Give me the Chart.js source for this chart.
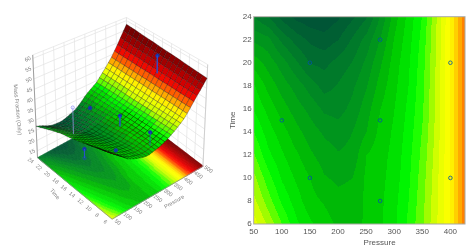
<!DOCTYPE html>
<html>
<head>
<meta charset="utf-8">
<title>Mass fraction surface</title>
<script src="https://cdn.jsdelivr.net/npm/chart.js@4"></script>
<style>
  html, body { margin: 0; padding: 0; background: #fff; }
  .box { position: absolute; top: 0; height: 252px; }
  #surface-box { left: 0; width: 228px; }
  #contour-box { left: 228px; width: 246px; }
  canvas { filter: blur(0.5px); }
</style>
</head>
<body>
<div class="box" id="surface-box"><canvas id="chart-surface"></canvas></div>
<div class="box" id="contour-box"><canvas id="chart-contour"></canvas></div>
<script>
// ===== data =====
const pressures = [50, 75, 100, 125, 150, 175, 200, 225, 250, 275, 300, 325, 350, 375, 400, 425, 450, 475, 500];
const times = [24, 22, 20, 18, 16, 14, 12, 10, 8, 6];

const massAt24 = [27, 26, 24.65, 23.7, 23.3, 23.2, 23.85, 24.8, 25.9, 28.1, 30.55, 32.35, 34.1, 37, 40.15, 43.7, 48, 53, 58];
const massAt22 = [28.8, 28.35, 26.75, 25.6, 24.8, 24.4, 25, 26.15, 27.4, 29.1, 31.1, 32.6, 34.4, 37.1, 40.15, 43.7, 47.9, 52.8, 57.7];
const massAt20 = [30.6, 29.6, 28.5, 27.2, 25.95, 25.7, 26.4, 27.05, 28.25, 29.85, 31.5, 32.85, 34.6, 37.2, 40.15, 43.7, 47.9, 52.6, 57.3];
const massAt18 = [32.1, 30.7, 29.55, 28.6, 27.55, 26.6, 27.1, 27.8, 28.9, 30.45, 31.75, 33, 34.77, 37.25, 40.15, 43.7, 47.8, 52.4, 57];
const massAt16 = [32.9, 31.7, 30.5, 29.5, 28.7, 27.8, 27.6, 28.3, 29.55, 31, 32, 33.25, 34.87, 37.3, 40.15, 43.7, 47.8, 52.2, 56.6];
const massAt14 = [34, 32.5, 31.45, 30.35, 29.5, 28.85, 28.5, 29, 30, 31.35, 32.2, 33.45, 35.1, 37.4, 40.15, 43.7, 47.7, 52, 56.3];
const massAt12 = [35.1, 33.3, 32.15, 31.2, 30.2, 29.5, 29.1, 29.3, 31, 31.6, 32.35, 33.65, 35.33, 37.55, 40.15, 43.7, 47.7, 51.7, 56];
const massAt10 = [36.3, 34.45, 32.85, 31.85, 31, 30.1, 29.8, 30, 31.2, 31.7, 32.5, 33.8, 35.55, 37.7, 40.15, 43.7, 47.6, 51.5, 55.6];
const massAt8 = [37.3, 35.5, 33.8, 32.5, 31.35, 30.9, 30.35, 30.4, 31.2, 31.8, 32.7, 34, 35.7, 37.8, 40.15, 43.7, 47.6, 51.2, 55.3];
const massAt6 = [38.5, 36.8, 35, 33.25, 32.2, 31.45, 30.8, 30.5, 31.2, 31.8, 32.8, 34.2, 35.87, 37.9, 40.15, 43.7, 47.5, 51, 55];
const massRows = [massAt24, massAt22, massAt20, massAt18, massAt16, massAt14, massAt12, massAt10, massAt8, massAt6];

// measured points as they appear in the contour plot
const samplePressure = [100, 150, 150, 275, 275, 275, 400, 400];
const sampleTime = [15, 20, 10, 22, 15, 8, 20, 10];

// measured points as they appear in the 3D view (measured value, surface value)
const pointPressure = [150, 100, 150, 275, 275, 275, 455];
const pointTime = [20, 15, 10, 22, 15, 8, 15];
const pointMass = [37, 26.9, 30.8, 27.8, 34.2, 36, 56];
const pointFitted = [24.3, 22.8, 30.8, 27.8, 29.2, 30, 47];

const pressureTicks = [50, 100, 150, 200, 250, 300, 350, 400];
const pressureTicks3d = [50, 100, 150, 200, 250, 300, 350, 400, 450, 500];
const timeTicks3d = [24, 22, 20, 18, 16, 14, 12, 10, 8, 6];
const massTicks3d = [60, 55, 50, 45, 40, 35, 30, 25, 20, 15];

// ===== colours =====
const COLOR_STOPS = [
  [23, 0, 80, 55], [25, 0, 100, 50], [27, 0, 130, 40], [29, 0, 155, 25], [31, 0, 195, 0],
  [33, 0, 235, 0], [34, 0, 255, 0], [35, 60, 255, 0], [36, 130, 252, 0], [37, 190, 252, 0],
  [38, 225, 255, 0], [39, 245, 255, 0], [40, 255, 255, 0], [41, 255, 225, 0], [42, 255, 190, 0],
  [43, 255, 150, 0], [44, 255, 110, 0], [46, 255, 40, 0], [48, 235, 0, 0], [52, 170, 0, 0], [58, 100, 0, 0]
];

function bandColor(z) {
  const v = Math.floor(z) + 0.5;
  if (v <= COLOR_STOPS[0][0]) return COLOR_STOPS[0].slice(1);
  for (let i = 1; i < COLOR_STOPS.length; i++) {
    const a = COLOR_STOPS[i - 1], b = COLOR_STOPS[i];
    if (v <= b[0]) {
      const k = (v - a[0]) / (b[0] - a[0]);
      return [a[1] + (b[1] - a[1]) * k, a[2] + (b[2] - a[2]) * k, a[3] + (b[3] - a[3]) * k];
    }
  }
  return COLOR_STOPS[COLOR_STOPS.length - 1].slice(1);
}

function css(c) { return `rgb(${Math.round(c[0])},${Math.round(c[1])},${Math.round(c[2])})`; }

// value between the read grid points
function massAt(p, t) {
  const fx = Math.min((p - 50) / 25, pressures.length - 1.001);
  const fy = Math.min((24 - t) / 2, times.length - 1.001);
  const i = Math.floor(fx), j = Math.floor(fy);
  const dx = fx - i, dy = fy - j;
  return massRows[j][i] * (1 - dx) * (1 - dy) + massRows[j][i + 1] * dx * (1 - dy) +
    massRows[j + 1][i] * (1 - dx) * dy + massRows[j + 1][i + 1] * dx * dy;
}

// ===== 3D box in view units =====
const Z_MIN = 11.7, Z_MAX = 61.7;
const BOX_FLOOR = [[34, 159], [112, 223], [207, 168], [128, 108]];
const BOX_TOP = [[29, 52], [113, 95], [212, 62], [127, 13]];

function project(p, t, z) {
  const u = (p - 50) / 450, v = (24 - t) / 18, w = (z - Z_MIN) / (Z_MAX - Z_MIN);
  const k = [(1 - u) * (1 - v), (1 - u) * v, u * v, u * (1 - v)];
  let x = 0, y = 0;
  for (let i = 0; i < 4; i++) {
    x += k[i] * (BOX_FLOOR[i][0] * (1 - w) + BOX_TOP[i][0] * w);
    y += k[i] * (BOX_FLOOR[i][1] * (1 - w) + BOX_TOP[i][1] * w);
  }
  return { x, y };
}

/* =========================
   SURFACE PLOT
========================= */
const surfacePlugin = {
  id: "surface",
  beforeDatasetsDraw(chart) {
    const ctx = chart.ctx;
    const sx = chart.scales.x, sy = chart.scales.y;
    const at = (p, t, z) => {
      const q = project(p, t, z);
      return [sx.getPixelForValue(q.x), sy.getPixelForValue(q.y)];
    };
    const line = (a, b) => {
      ctx.beginPath();
      ctx.moveTo(a[0], a[1]);
      ctx.lineTo(b[0], b[1]);
      ctx.stroke();
    };
    const quad = (a, b, c, d) => {
      ctx.beginPath();
      ctx.moveTo(a[0], a[1]);
      ctx.lineTo(b[0], b[1]);
      ctx.lineTo(c[0], c[1]);
      ctx.lineTo(d[0], d[1]);
      ctx.closePath();
    };
    ctx.save();

    // back walls
    ctx.strokeStyle = "#e2e2e2";
    ctx.lineWidth = 0.7;
    massTicks3d.forEach((z) => {
      line(at(50, 24, z), at(500, 24, z));
      line(at(500, 24, z), at(500, 6, z));
    });
    pressureTicks3d.forEach((p) => line(at(p, 24, Z_MIN), at(p, 24, Z_MAX)));
    timeTicks3d.forEach((t) => line(at(500, t, Z_MIN), at(500, t, Z_MAX)));
    line(at(50, 24, Z_MAX), at(500, 24, Z_MAX));
    line(at(500, 24, Z_MAX), at(500, 6, Z_MAX));

    // floor contour
    for (let p = 50; p < 500; p += 4) {
      for (let t = 24; t > 6; t -= 0.25) {
        const c = css(bandColor(massAt(p + 2, t - 0.125)));
        ctx.fillStyle = c;
        ctx.strokeStyle = c;
        ctx.lineWidth = 0.5;
        quad(at(p, t, Z_MIN), at(p + 4, t, Z_MIN), at(p + 4, t - 0.25, Z_MIN), at(p, t - 0.25, Z_MIN));
        ctx.fill();
        ctx.stroke();
      }
    }

    // axes
    ctx.strokeStyle = "#8a8a8a";
    ctx.lineWidth = 0.8;
    line(at(50, 24, Z_MIN), at(50, 24, Z_MAX));
    line(at(50, 24, Z_MIN), at(50, 6, Z_MIN));
    line(at(50, 6, Z_MIN), at(500, 6, Z_MIN));
    ctx.strokeStyle = "#c8c8c8";
    line(at(500, 6, Z_MIN), at(500, 6, Z_MAX));

    // surface mesh, far corner first
    ctx.lineWidth = 0.45;
    ctx.strokeStyle = "rgba(0,0,0,0.6)";
    for (let p = 485; p >= 50; p -= 15) {
      for (let t = 23; t >= 6; t -= 1) {
        const z = massAt(p + 7.5, t + 0.5);
        quad(at(p, t + 1, massAt(p, t + 1)), at(p + 15, t + 1, massAt(p + 15, t + 1)),
          at(p + 15, t, massAt(p + 15, t)), at(p, t, massAt(p, t)));
        ctx.fillStyle = css(bandColor(z));
        ctx.fill();
        ctx.stroke();
      }
    }

    // tick labels
    ctx.fillStyle = "#808080";
    ctx.textAlign = "center";
    ctx.textBaseline = "middle";
    const label = (text, x, y, angle, size) => {
      ctx.save();
      ctx.translate(x, y);
      ctx.rotate(angle * Math.PI / 180);
      ctx.font = size + 'px "Liberation Sans", Arial, sans-serif';
      ctx.fillText(text, 0, 0);
      ctx.restore();
    };
    massTicks3d.forEach((z) => {
      const q = at(50, 24, z);
      label(String(z), q[0] - 5, q[1] + 1, -25, 5.5);
    });
    timeTicks3d.forEach((t) => {
      const q = at(50, t, Z_MIN);
      label(String(t), q[0] - 7, q[1] + 3, 40, 5.5);
    });
    pressureTicks3d.forEach((p) => {
      const q = at(p, 6, Z_MIN);
      label(String(p), q[0] + 5.5, q[1] + 3, 35, 5.5);
    });
    label("Mass Fraction (Only)", sx.getPixelForValue(13), sy.getPixelForValue(109), 85, 5.5);
    label("Time", sx.getPixelForValue(52), sy.getPixelForValue(197), 50, 5.5);
    label("Pressure", sx.getPixelForValue(177), sy.getPixelForValue(205), -30, 5.5);
    ctx.restore();
  },
};

const stemDatasets = pointPressure.map((p, i) => ({
  type: "line",
  data: [project(p, pointTime[i], pointMass[i]), project(p, pointTime[i], pointFitted[i])],
  borderColor: i === 0 ? "#a0a0f5" : "#2a50d0",
  borderWidth: 0.7,
  pointRadius: 0,
  parsing: false,
}));

new Chart(document.getElementById("chart-surface"), {
  type: "scatter",
  data: {
    datasets: [
      ...stemDatasets,
      {
        // open circles sit at the stem ends that lie off the surface
        data: [project(pointPressure[0], pointTime[0], pointMass[0]), project(pointPressure[1], pointTime[1], pointFitted[1])],
        pointRadius: 1.6,
        pointBackgroundColor: "rgba(255,255,255,0)",
        pointBorderColor: ["#8a8af5", "#1c3fc0"],
        pointBorderWidth: 0.7,
      },
      {
        data: pointPressure.map((p, i) => project(p, pointTime[i], pointMass[i])).slice(1),
        pointRadius: 1.7,
        pointBackgroundColor: "#1535a8",
        pointBorderColor: "#1535a8",
      },
    ],
  },
  options: {
    responsive: true,
    maintainAspectRatio: false,
    animation: false,
    plugins: { legend: { display: false }, tooltip: { enabled: false } },
    scales: {
      x: { type: "linear", min: 0, max: 228, display: false },
      y: { type: "linear", min: 0, max: 252, reverse: true, display: false },
    },
  },
  plugins: [surfacePlugin],
});

/* =========================
   CONTOUR PLOT
========================= */
const contourPlugin = {
  id: "contour",
  beforeDatasetsDraw(chart) {
    const { ctx, chartArea: a, scales } = chart;
    const w = Math.round(a.right - a.left), h = Math.round(a.bottom - a.top);
    const img = ctx.createImageData(w, h);
    for (let j = 0; j < h; j++) {
      const t = scales.y.getValueForPixel(a.top + j + 0.5);
      for (let i = 0; i < w; i++) {
        const p = scales.x.getValueForPixel(a.left + i + 0.5);
        const c = bandColor(massAt(p, t));
        const n = (j * w + i) * 4;
        img.data[n] = c[0];
        img.data[n + 1] = c[1];
        img.data[n + 2] = c[2];
        img.data[n + 3] = 255;
      }
    }
    ctx.putImageData(img, Math.round(a.left), Math.round(a.top));
  },
  afterDatasetsDraw(chart) {
    const { ctx, chartArea: a, scales } = chart;
    ctx.save();
    ctx.strokeStyle = "#a8a8a0";
    ctx.lineWidth = 1;
    ctx.strokeRect(a.left, a.top, a.right - a.left, a.bottom - a.top);
    ctx.fillStyle = "#555";
    ctx.font = '8px "Liberation Sans", Arial, sans-serif';
    ctx.textAlign = "center";
    ctx.textBaseline = "middle";
    ctx.fillText("Pressure", scales.x.getPixelForValue(274), 243);
    ctx.restore();
  },
};

new Chart(document.getElementById("chart-contour"), {
  type: "scatter",
  data: {
    datasets: [{
      data: samplePressure.map((p, i) => ({ x: p, y: sampleTime[i] })),
      pointRadius: 1.8,
      pointBackgroundColor: "rgba(0,0,0,0)",
      pointBorderColor: "rgba(0,80,170,0.8)",
      pointBorderWidth: 1,
    }],
  },
  options: {
    responsive: true,
    maintainAspectRatio: false,
    animation: false,
    layout: { padding: { top: 16.7, right: 9 } },
    plugins: { legend: { display: false }, tooltip: { enabled: false } },
    scales: {
      x: {
        type: "linear",
        min: 50,
        max: 426,
        afterBuildTicks: (s) => { s.ticks = pressureTicks.map((v) => ({ value: v })); },
        afterFit: (s) => { s.height = 28; },
        grid: { display: false, drawTicks: false, tickLength: 0 },
        border: { display: false },
        ticks: { color: "#555", padding: 3, font: { size: 8, family: "Liberation Sans" }, maxRotation: 0, autoSkip: false },
      },
      y: {
        type: "linear",
        min: 6,
        max: 24,
        afterFit: (s) => { s.width = 25.7; },
        grid: { display: false, drawTicks: false, tickLength: 0 },
        border: { display: false },
        title: { display: true, text: "Time", color: "#555", padding: 0, font: { size: 8, family: "Liberation Sans" } },
        ticks: { stepSize: 2, color: "#555", padding: 2, font: { size: 8, family: "Liberation Sans" } },
      },
    },
  },
  plugins: [contourPlugin],
});
</script>
</body>
</html>
